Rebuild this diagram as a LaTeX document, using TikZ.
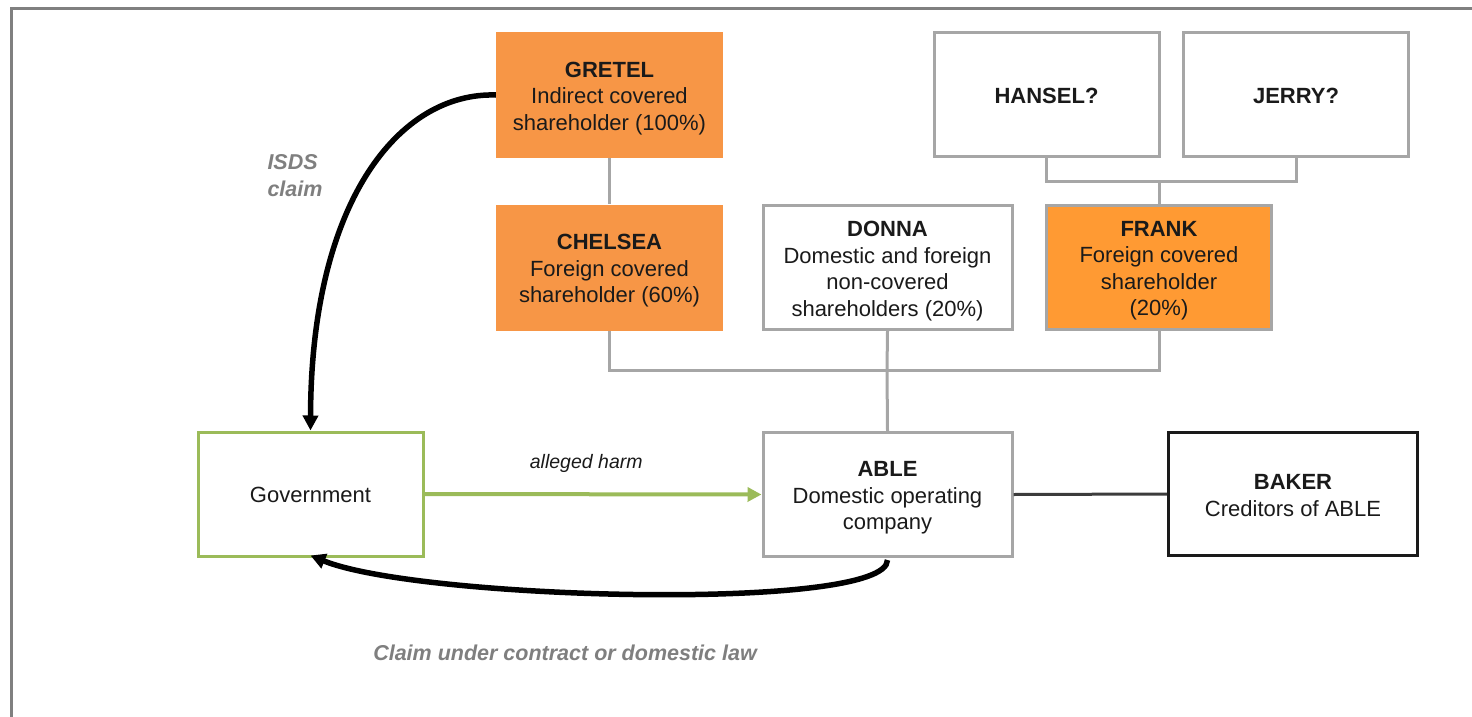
\documentclass[tikz,border=0pt]{standalone}
\usepackage{fontspec}
\setmainfont{Liberation Sans}
\usetikzlibrary{arrows.meta}
\definecolor{orA}{HTML}{F79646}
\definecolor{orB}{HTML}{FF9A33}
\definecolor{gbord}{HTML}{A6A6A6}
\definecolor{grn}{HTML}{9BBB59}
\definecolor{txt}{HTML}{1A1A1A}
\definecolor{lblgray}{HTML}{7F7F7F}
\definecolor{frame}{HTML}{808080}
\newcommand\boxtxt[1]{\raisebox{-3.5pt}[\height][\depth]{\begin{tabular}{@{}c@{}}#1\end{tabular}}}
\tikzset{
  base/.style={rectangle, inner sep=0pt, text=txt,
    font=\fontsize{22}{26.5}\selectfont},
  orbox/.style={base, fill=orA, draw=none, minimum width=227pt, minimum height=126pt},
  frbox/.style={base, fill=orB, draw=gbord, line width=3pt, minimum width=225pt, minimum height=124pt},
  wbox/.style={base, fill=white, draw=gbord, line width=3pt, minimum width=225pt, minimum height=124pt},
  gbox/.style={base, fill=white, draw=grn, line width=3pt, minimum width=225pt, minimum height=124pt},
  bbox/.style={base, fill=white, draw=txt, line width=3pt, minimum width=249pt, minimum height=123pt},
  tree/.style={draw=gbord, line width=3pt},
  bigarrow/.style={draw=black, line width=5.5pt, -{Triangle[length=15pt,width=15pt]}},
  lbl/.style={text=lblgray, font=\fontsize{21.5}{27}\selectfont\bfseries\itshape, align=left},
}
\begin{document}
\begin{tikzpicture}[x=1pt,y=-1pt]
\useasboundingbox (0,0) rectangle (1472,717);
% frame
\draw[frame, line width=3pt] (11,717) -- (11,8.5) -- (1472,8.5);

% nodes
\node[orbox] (gretel) at (609.5,95) {\boxtxt{\textbf{GRETEL}\\Indirect covered\\shareholder (100\%)}};
\node[orbox] (chelsea) at (609.5,267.5) {\boxtxt{\textbf{CHELSEA}\\Foreign covered\\shareholder (60\%)}};
\node[wbox, minimum width=249pt] (donna) at (887.5,267.5) {\boxtxt{\textbf{DONNA}\\Domestic and foreign\\non-covered\\shareholders (20\%)}};
\node[frbox] (frank) at (1159,267) {\boxtxt{\textbf{FRANK}\\Foreign covered\\shareholder\\(20\%)}};
\node[wbox] (hansel) at (1046.5,94.5) {\boxtxt{\textbf{HANSEL?}}};
\node[wbox] (jerry) at (1296,94.5) {\boxtxt{\textbf{JERRY?}}};
\node[gbox] (gov) at (310.5,494) {\boxtxt{Government}};
\node[wbox, minimum width=249pt] (able) at (887.5,494.5) {\boxtxt{\textbf{ABLE}\\Domestic operating\\company}};
\node[bbox] (baker) at (1293,494) {\boxtxt{\textbf{BAKER}\\Creditors of ABLE}};

% tree connectors
\coordinate (j1) at (1159,181);
\coordinate (j2) at (887,370);
\draw[tree] (gretel.south) -- (chelsea.north);
\draw[tree] (hansel.south) |- (j1);
\draw[tree] (jerry.south) |- (j1);
\draw[tree] (frank.north) -- (j1);
\draw[tree] (chelsea.south) |- (j2);
\draw[tree] (frank.south) |- (j2);
\draw[tree] (donna.south) -- (j2);
\draw[tree] (j2) -- (able.north);

% ABLE - BAKER
\draw[draw=txt!85, line width=3pt] (able.east) -- (baker.west);

% alleged harm
\draw[draw=grn, line width=4pt, -{Triangle[length=14pt,width=14pt]}] (gov.east) -- (able.west)
  node[pos=0.48, above=16pt, text=txt, font=\fontsize{19.5}{22}\selectfont\itshape] {alleged harm};

% ISDS claim
\draw[bigarrow] (gretel.west) .. controls (400,92) and (311,200) .. (gov.north);
\node[lbl] (isds) at (295,176) {ISDS\\claim};

% claim under contract
\draw[bigarrow] ([yshift=-2pt]able.south) .. controls (887,612) and (420,600) .. ([yshift=2pt]gov.south);
\node[lbl] (claim) at (565,653) {Claim under contract or domestic law};
\end{tikzpicture}
\end{document}
